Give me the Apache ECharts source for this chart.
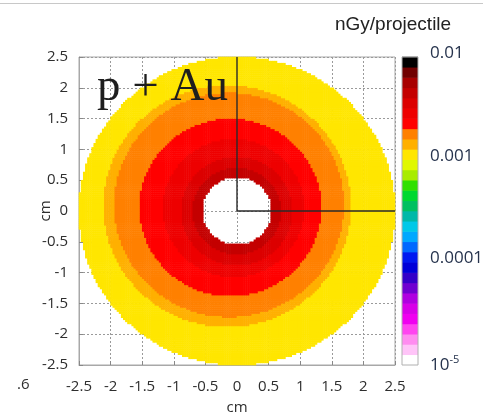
<!DOCTYPE html>
<html>
<head>
<meta charset="utf-8">
<script src="https://cdn.jsdelivr.net/npm/echarts@6/dist/echarts.min.js"></script>
<style>
  html, body { margin: 0; padding: 0; background: #ffffff; }
  #chart { width: 487px; height: 420px; }
</style>
</head>
<body>
<div id="chart"></div>
<script>
// ---- Axis ticks (cm) ----
const axisMin = -2.5;
const axisMax = 2.5;
const axisStep = 0.5;

// ---- Dose bands: outermost (lowest dose) to innermost (highest dose) ----
// Each band is bounded by a circle (centre bandCx/bandCy, radius bandR, in cm)
const bandDose = [0.0011, 0.0014, 0.0018, 0.0022, 0.0028, 0.0035, 0.0045]; // nGy/projectile
const bandCx   = [0.00,  -0.15,  -0.12,  -0.10,  -0.05,  0.00,   0.00];
const bandCy   = [0.00,   0.08,   0.10,   0.06,   0.05,  0.00,   0.00];
const bandR    = [2.50,   1.96,   1.82,   1.44,   1.12,  0.88,   0.70];
const holeR = 0.55;          // empty bore in the middle (cm)
const cellsPerSide = 150;    // scoring mesh

// ---- Colour scale: 10 steps per decade, from 1e-5 up to 1e-2 ----
const scaleMinExp = -5;
const scaleMaxExp = -2;
const scaleColors = [
  // 1e-5 .. 1e-4
  '#ffffff', '#ffc4f8', '#ff8cf0', '#ff44f0', '#f000f0',
  '#d800e8', '#b000e0', '#7000d0', '#3400c8', '#0000d8',
  // 1e-4 .. 1e-3
  '#0018f0', '#0068ff', '#00a8ff', '#00c8e8', '#00b8a8',
  '#00c060', '#00d830', '#30e000', '#a8ec00', '#e0f800',
  // 1e-3 .. 1e-2
  '#ffe600', '#ffb000', '#ff8000', '#ff0000', '#ee0000',
  '#dc0000', '#c40000', '#a80000', '#700000', '#000000'
];
const scaleTickLabels = { '-5': '{b|10}{s|-5}', '-4': '{u|0.0001}', '-3': '{u|0.001}', '-2': '{u|0.01}' };

// ---- Build the dose map on the mesh ----
const cellSize = (axisMax - axisMin) / cellsPerSide;
const cellNames = [];
for (let i = 0; i < cellsPerSide; i++) cellNames.push(String(i));

const doseCells = [];
for (let i = 0; i < cellsPerSide; i++) {
  const x = axisMin + (i + 0.5) * cellSize;
  for (let j = 0; j < cellsPerSide; j++) {
    const y = axisMin + (j + 0.5) * cellSize;
    const r = Math.hypot(x, y);
    if (r > bandR[0] || r < holeR) continue;
    for (let k = bandDose.length - 1; k >= 0; k--) {
      if (Math.hypot(x - bandCx[k], y - bandCy[k]) <= bandR[k]) {
        doseCells.push([i, j, bandDose[k]]);
        break;
      }
    }
  }
}

const colourPieces = scaleColors.map((c, i) => ({
  gte: Math.pow(10, scaleMinExp + i / 10),
  lt: Math.pow(10, scaleMinExp + (i + 1) / 10),
  color: c
}));
const scaleSteps = scaleColors.map((c, i) => [scaleMinExp + i / 10, scaleMinExp + (i + 1) / 10]);

const labelFont = '"Open Sans", "Liberation Sans", sans-serif';
const scaleLabelColor = '#26334d';
const chart = echarts.init(document.getElementById('chart'), null, { renderer: 'canvas' });

chart.setOption({
  animation: false,
  backgroundColor: '#ffffff',
  grid: [
    { left: 79, top: 57, width: 316, height: 308, show: true, borderColor: '#a8a8a8', borderWidth: 1,
      backgroundColor: 'transparent', containLabel: false, outerBoundsMode: 'none' },
    { left: 402, top: 57, width: 16, height: 308, show: false, containLabel: false, outerBoundsMode: 'none' }
  ],
  xAxis: [
    { type: 'category', gridIndex: 0, data: cellNames, show: false },
    { type: 'value', gridIndex: 0, min: axisMin, max: axisMax, interval: axisStep, position: 'bottom',
      axisLine: { show: true, lineStyle: { color: '#a8a8a8' } },
      axisTick: { show: true, inside: true, length: 4, lineStyle: { color: '#888' } },
      splitLine: { show: true, lineStyle: { color: '#9a9a9a', type: [2, 2], width: 1 } },
      axisLabel: { color: '#2e2e2e', fontSize: 15, fontFamily: labelFont, margin: 14 },
      name: 'cm', nameLocation: 'middle', nameGap: 35, nameMoveOverlap: false,
      nameTextStyle: { color: '#2e2e2e', fontSize: 15, fontFamily: labelFont } },
    { type: 'value', gridIndex: 1, min: 0, max: 1, show: false }
  ],
  yAxis: [
    { type: 'category', gridIndex: 0, data: cellNames, show: false },
    { type: 'value', gridIndex: 0, min: axisMin, max: axisMax, interval: axisStep, position: 'left',
      axisLine: { show: true, lineStyle: { color: '#a8a8a8' } },
      axisTick: { show: true, inside: true, length: 4, lineStyle: { color: '#888' } },
      splitLine: { show: true, lineStyle: { color: '#9a9a9a', type: [2, 2], width: 1 } },
      axisLabel: { color: '#2e2e2e', fontSize: 15, fontFamily: labelFont, margin: 11 },
      name: 'cm', nameLocation: 'middle', nameGap: 26, nameRotate: 90, nameMoveOverlap: false,
      nameTextStyle: { color: '#2e2e2e', fontSize: 15, fontFamily: labelFont } },
    { type: 'value', gridIndex: 1, min: scaleMinExp, max: scaleMaxExp, interval: 1, position: 'right',
      axisLine: { show: false }, axisTick: { show: false }, splitLine: { show: false },
      axisLabel: {
        margin: 12, color: scaleLabelColor, fontSize: 17, fontFamily: labelFont,
        formatter: v => scaleTickLabels[String(v)] || '',
        rich: {
          u: { fontSize: 17, color: scaleLabelColor, fontFamily: labelFont, padding: [0, 0, 8, 0] },
          b: { fontSize: 17, color: scaleLabelColor, fontFamily: labelFont },
          s: { fontSize: 11, color: scaleLabelColor, fontFamily: labelFont, verticalAlign: 'top', padding: [0, 0, 10, 0] }
        }
      } }
  ],
  visualMap: {
    type: 'piecewise', show: false, seriesIndex: 0, dimension: 2, pieces: colourPieces
  },
  series: [
    {
      type: 'heatmap', xAxisIndex: 0, yAxisIndex: 0, data: doseCells,
      itemStyle: { borderWidth: 0 }, emphasis: { disabled: true }, progressive: 0
    },
    {
      type: 'line', xAxisIndex: 1, yAxisIndex: 1, data: [[0, axisMax], [0, 0], [axisMax, 0]],
      symbol: 'none', lineStyle: { color: '#2a2a2a', width: 1.4 }, z: 5, silent: true
    },
    {
      type: 'custom', xAxisIndex: 2, yAxisIndex: 2, data: scaleSteps, silent: true,
      encode: { y: [0, 1] },
      renderItem: (params, api) => {
        const top = api.coord([0, api.value(1)]);
        const bottom = api.coord([1, api.value(0)]);
        return {
          type: 'rect',
          shape: { x: top[0], y: top[1] - 0.3, width: bottom[0] - top[0], height: bottom[1] - top[1] + 0.6 },
          style: { fill: scaleColors[params.dataIndex] }
        };
      }
    }
  ],
  graphic: [
    { type: 'line', shape: { x1: 0, y1: 3.5, x2: 483, y2: 3.5 }, style: { stroke: '#c8c8c8', lineWidth: 1 } },
    { type: 'rect', shape: { x: 402, y: 57, width: 16, height: 308 }, style: { fill: null, stroke: '#b0b0b0', lineWidth: 1 }, z: 10 },
    { type: 'text', left: 335, top: 15, style: { text: 'nGy/projectile', fill: '#222', font: '19px "Liberation Sans", Arial, sans-serif' } },
    { type: 'text', left: 97, top: 64, style: { text: 'p + Au', fill: '#1e1e1e', font: '47px "Liberation Serif", "Times New Roman", serif' }, z: 10 },
    { type: 'text', left: 17, top: 377, style: { text: '.6', fill: '#2e2e2e', font: '15px "Open Sans", "Liberation Sans", sans-serif' } }
  ]
});
</script>
</body>
</html>
